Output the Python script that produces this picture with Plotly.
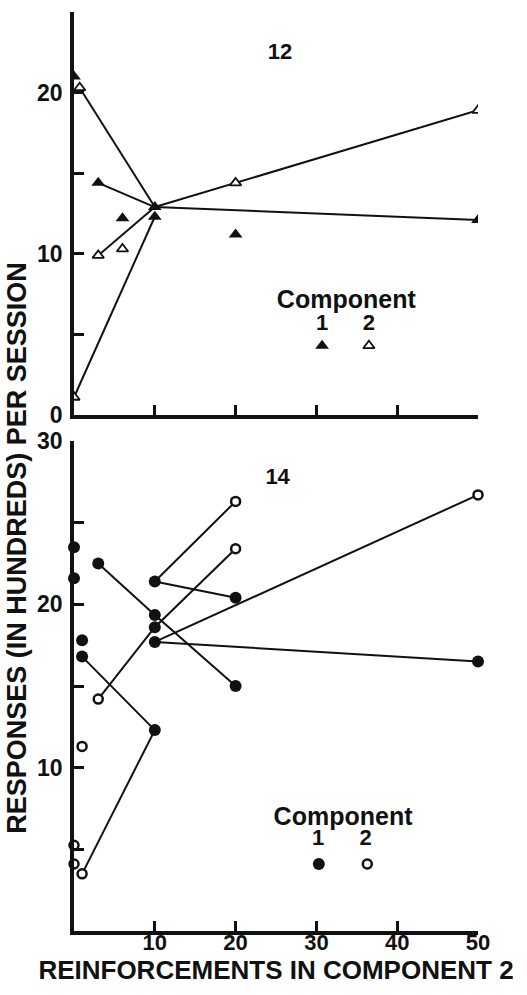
import plotly.graph_objects as go

# ---------------- data ----------------
# Top panel (subject 12): triangles
top_c1_x = [0, 3, 6, 10, 10, 20, 50]
top_c1_y = [21.0, 14.4, 12.2, 12.9, 12.3, 11.2, 12.1]
top_c2_x = [0.7, 3, 6, 0, 20, 50]
top_c2_y = [20.3, 9.9, 10.3, 1.1, 14.4, 18.9]
top_lines_x = [[0.7, 10], [3, 10], [3, 10], [0, 10], [10, 20, 50], [10, 50]]
top_lines_y = [[20.3, 12.9], [14.4, 12.9], [9.9, 12.9], [1.1, 12.3], [12.9, 14.4, 18.9], [12.9, 12.1]]

# Bottom panel (subject 14): circles
bot_c1_x = [0, 0, 3, 10, 20, 10, 10, 10, 1, 1, 20, 10, 50]
bot_c1_y = [23.5, 21.6, 22.5, 21.4, 20.4, 19.35, 18.6, 17.7, 17.8, 16.8, 15.0, 12.3, 16.5]
bot_c2_x = [20, 20, 3, 50, 1, 0, 0, 1]
bot_c2_y = [26.3, 23.4, 14.2, 26.7, 11.3, 5.25, 4.1, 3.5]
bot_lines_x = [[3, 10, 20], [20, 10, 20], [3, 10, 20], [50, 10, 50], [1, 10, 1]]
bot_lines_y = [[22.5, 19.35, 15.0], [26.3, 21.4, 20.4], [14.2, 18.6, 23.4], [26.7, 17.7, 16.5], [16.8, 12.3, 3.5]]

x_ticks = [10, 20, 30, 40, 50]
x_ticklabels = ["10", "20", "30", "40", "50"]
top_y_ticks = [0, 5, 10, 15, 20, 25]
top_y_labels = ["0", "", "10", "", "20", ""]
bot_y_ticks = [0, 5, 10, 15, 20, 25, 30]
bot_y_labels = ["", "", "10", "", "20", "", "30"]

# ---------------- layout geometry ----------------
W, H = 527, 995
L, R, T, B = 74, 49, 12, 64
PW, PH = W - L - R, H - T - B


def py(yp):
    return (H - B - yp) / PH


def bold(labels):
    return [f"<b>{s}</b>" if s else "" for s in labels]


FONT = "Liberation Sans, Arial, Helvetica, sans-serif"
BLACK = "#111111"

fig = go.Figure()


def add_panel(lines_x, lines_y, c1x, c1y, c2x, c2y, xa, ya, sym1, sym2, s1, s2, lw2, clip):
    for lx, ly in zip(lines_x, lines_y):
        fig.add_trace(go.Scatter(x=lx, y=ly, mode="lines", xaxis=xa, yaxis=ya,
                                 line=dict(color=BLACK, width=2), cliponaxis=clip,
                                 showlegend=False, hoverinfo="skip"))
    fig.add_trace(go.Scatter(x=c2x, y=c2y, mode="markers", xaxis=xa, yaxis=ya,
                             marker=dict(symbol=sym2, size=s2, color="white",
                                         line=dict(color=BLACK, width=lw2)),
                             cliponaxis=clip, showlegend=False))
    fig.add_trace(go.Scatter(x=c1x, y=c1y, mode="markers", xaxis=xa, yaxis=ya,
                             marker=dict(symbol=sym1, size=s1, color=BLACK,
                                         line=dict(color=BLACK, width=0)),
                             cliponaxis=clip, showlegend=False))


add_panel(top_lines_x, top_lines_y, top_c1_x, top_c1_y, top_c2_x, top_c2_y,
          "x", "y", "triangle-up", "triangle-up", 12, 10, 1.8, True)
add_panel(bot_lines_x, bot_lines_y, bot_c1_x, bot_c1_y, bot_c2_x, bot_c2_y,
          "x2", "y2", "circle", "circle", 12, 9, 2.5, False)


def label(text, x, y, size, xa, ya, clip=True):
    fig.add_trace(go.Scatter(x=[x], y=[y], mode="text", text=[f"<b>{text}</b>"],
                             textposition="middle center", xaxis=xa, yaxis=ya,
                             textfont=dict(family=FONT, size=size, color=BLACK),
                             cliponaxis=clip, showlegend=False, hoverinfo="skip"))


def key(x, y, sym, size, fill, lw, xa, ya):
    fig.add_trace(go.Scatter(x=[x], y=[y], mode="markers", xaxis=xa, yaxis=ya,
                             marker=dict(symbol=sym, size=size, color=fill,
                                         line=dict(color=BLACK, width=lw)),
                             showlegend=False, hoverinfo="skip"))


# top panel texts and key
label("12", 25.5, 22.45, 22, "x", "y")
label("Component", 33.7, 7.0, 25, "x", "y")
label("1", 30.7, 5.6, 22, "x", "y")
label("2", 36.5, 5.6, 22, "x", "y")
key(30.7, 4.3, "triangle-up", 12, BLACK, 0, "x", "y")
key(36.5, 4.3, "triangle-up", 10, "white", 1.8, "x", "y")

# bottom panel texts and key
label("14", 25.2, 27.7, 22, "x2", "y2")
label("Component", 33.3, 6.9, 25, "x2", "y2")
label("1", 30.2, 5.6, 22, "x2", "y2")
label("2", 36.1, 5.6, 22, "x2", "y2")
key(30.3, 4.1, "circle", 12, BLACK, 0, "x2", "y2")
key(36.3, 4.1, "circle", 9, "white", 2.5, "x2", "y2")
label("0", -3.1, -0.7, 22, "x2", "y2", clip=False)

# carrier for the shared y title
fig.add_trace(go.Scatter(x=[], y=[], xaxis="x2", yaxis="y3", showlegend=False))

top_dom = [py(415), 1.0]
bot_dom = [0.0, py(441)]
title_center = py(548)

axis_common = dict(showline=True, linecolor=BLACK, linewidth=3.5, ticks="inside",
                   ticklen=10, tickwidth=3, tickcolor=BLACK, showgrid=False,
                   zeroline=False, automargin=False)

fig.update_layout(
    width=W, height=H, margin=dict(l=L, r=R, t=T, b=B),
    paper_bgcolor="white", plot_bgcolor="rgba(0,0,0,0)", showlegend=False,
    font=dict(family=FONT, color=BLACK),
    xaxis=dict(domain=[0, 1], range=[0, 50], anchor="y", tickvals=x_ticks,
               ticktext=["" for _ in x_ticks], **axis_common),
    yaxis=dict(domain=top_dom, range=[0, 25], anchor="x", tickvals=top_y_ticks,
               ticktext=bold(top_y_labels), ticklabelstandoff=3,
               tickfont=dict(family=FONT, size=23, color=BLACK), **axis_common),
    xaxis2=dict(domain=[0, 1], range=[0, 50], anchor="y2", tickvals=x_ticks,
                ticktext=bold(x_ticklabels), ticklabelstandoff=-11,
                tickfont=dict(family=FONT, size=22, color=BLACK),
                title=dict(text="<b>REINFORCEMENTS IN COMPONENT 2</b>", standoff=2,
                           font=dict(family=FONT, size=26, color=BLACK)),
                **axis_common),
    yaxis2=dict(domain=bot_dom, range=[0, 30], anchor="x2", tickvals=bot_y_ticks,
                ticktext=bold(bot_y_labels), ticklabelstandoff=3,
                tickfont=dict(family=FONT, size=23, color=BLACK), **axis_common),
    yaxis3=dict(domain=[0, 2 * title_center], range=[0, 1], anchor="free", position=0,
                showline=False, ticks="", showticklabels=False, showgrid=False,
                zeroline=False, automargin=False,
                title=dict(text="<b>RESPONSES (IN HUNDREDS) PER SESSION</b>", standoff=38,
                           font=dict(family=FONT, size=27, color=BLACK))),
)

fig.write_html("out.html")
